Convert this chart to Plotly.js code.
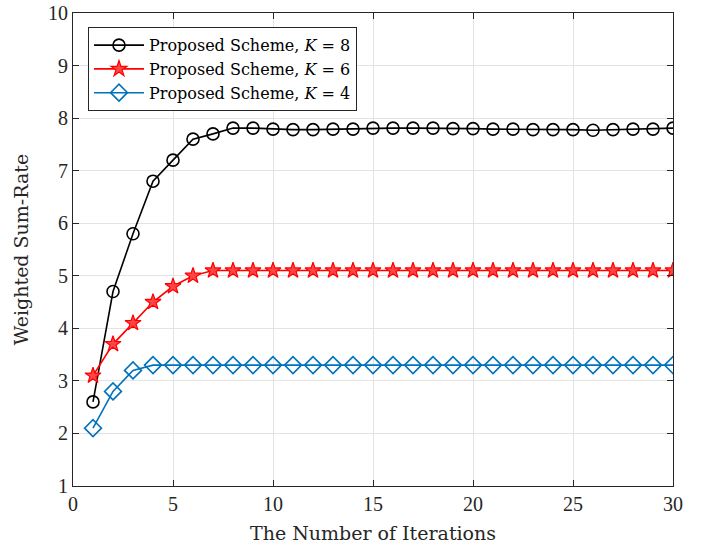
<!DOCTYPE html>
<html>
<head>
<meta charset="utf-8">
<script src="https://cdn.plot.ly/plotly-3.0.1.min.js"></script>
<style>html,body{margin:0;padding:0;background:#fff;}#chart{width:710px;height:548px;}</style>
</head>
<body>
<div id="chart"></div>
<script>
const iterations = Array.from({length: 30}, (_, i) => i + 1);
const rateK8 = [2.6, 4.7, 5.8, 6.8, 7.2, 7.6, 7.7, 7.81, 7.81, 7.79, 7.78, 7.78, 7.79, 7.79, 7.81,
                7.81, 7.81, 7.81, 7.80, 7.80, 7.79, 7.79, 7.78, 7.78, 7.78, 7.77, 7.78, 7.79, 7.79, 7.81];
const rateK6 = [3.1, 3.7, 4.1, 4.5, 4.8, 5.0, 5.1, 5.1, 5.1, 5.1, 5.1, 5.1, 5.1, 5.1, 5.1,
                5.1, 5.1, 5.1, 5.1, 5.1, 5.1, 5.1, 5.1, 5.1, 5.1, 5.1, 5.1, 5.1, 5.1, 5.1];
const rateK4 = [2.1, 2.8, 3.2, 3.3, 3.3, 3.3, 3.3, 3.3, 3.3, 3.3, 3.3, 3.3, 3.3, 3.3, 3.3,
                3.3, 3.3, 3.3, 3.3, 3.3, 3.3, 3.3, 3.3, 3.3, 3.3, 3.3, 3.3, 3.3, 3.3, 3.3];
const seriesNames = ['Proposed Scheme, <i>K</i> = 8', 'Proposed Scheme, <i>K</i> = 6', 'Proposed Scheme, <i>K</i> = 4'];

const tickFont = 'Liberation Serif, Times New Roman, serif';
const textFont = 'DejaVu Serif, serif';
const traces = [
  {x: iterations, y: rateK8, name: seriesNames[0], mode: 'lines+markers',
   line: {color: '#000000', width: 1.6},
   marker: {symbol: 'circle-open', size: 12, color: '#000000', line: {width: 1.6}}},
  {x: iterations, y: rateK6, name: seriesNames[1], mode: 'lines+markers',
   line: {color: '#ff0000', width: 1.6},
   marker: {symbol: 'star', size: 12, color: 'rgba(255,70,70,1)', line: {color: '#ff0000', width: 1.2}}},
  {x: iterations, y: rateK4, name: seriesNames[2], mode: 'lines+markers',
   line: {color: '#0072BD', width: 1.6},
   marker: {symbol: 'diamond-open', size: 13, color: '#0072BD', line: {width: 1.6}}}
];

const axisCommon = {
  showline: true, linecolor: '#262626', linewidth: 1, mirror: 'ticks',
  ticks: 'inside', ticklen: 6, tickcolor: '#262626',
  showgrid: true, gridcolor: '#e3e3e3', gridwidth: 1,
  zeroline: false, tickfont: {family: tickFont, size: 20, color: '#262626'}
};

const layout = {
  width: 710, height: 548,
  margin: {l: 73, r: 36.5, t: 13, b: 62},
  paper_bgcolor: '#ffffff', plot_bgcolor: '#ffffff',
  font: {family: textFont, color: '#262626'},
  showlegend: true,
  xaxis: Object.assign({}, axisCommon, {
    range: [0, 30], tickvals: [0, 5, 10, 15, 20, 25, 30],
    title: {text: 'The Number of Iterations', font: {family: textFont, size: 19, color: '#262626'}, standoff: 12}
  }),
  yaxis: Object.assign({}, axisCommon, {
    range: [1, 10], tickvals: [1, 2, 3, 4, 5, 6, 7, 8, 9, 10],
    title: {text: 'Weighted Sum-Rate', font: {family: textFont, size: 19, color: '#262626'}, standoff: 14}
  }),
  legend: {
    x: 0.025, y: 0.97, xanchor: 'left', yanchor: 'top',
    bgcolor: '#ffffff', bordercolor: '#262626', borderwidth: 1,
    font: {family: textFont, size: 16, color: '#000000'},
    tracegroupgap: 0, itemwidth: 50
  }
};

Plotly.newPlot('chart', traces, layout, {staticPlot: true, displayModeBar: false});
</script>
</body>
</html>
